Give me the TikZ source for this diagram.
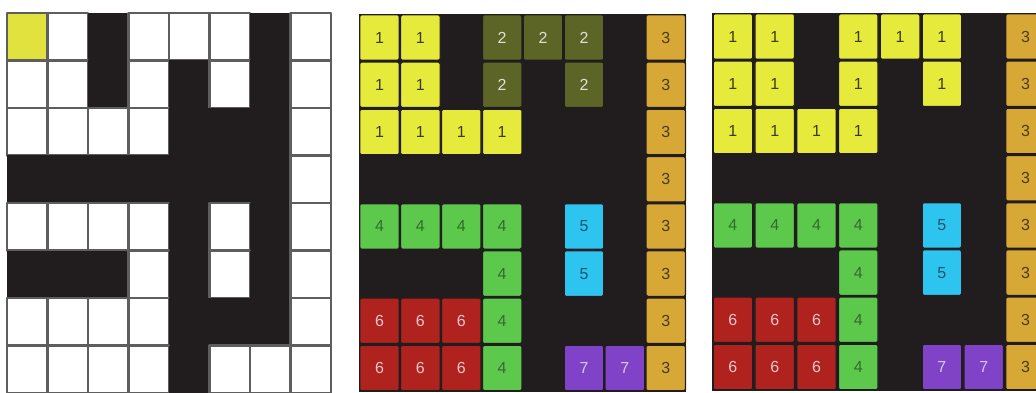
\documentclass[tikz,border=0pt]{standalone}
\usepackage{fontspec}
\setsansfont{Liberation Sans}
\usepackage{xcolor}
\usepackage{tikz}
\usetikzlibrary{positioning}
\definecolor{wallink}{HTML}{211D1F}
\definecolor{gridgray}{HTML}{5E5E5E}
\definecolor{startyellow}{HTML}{E2E23E}
\definecolor{lyellow}{HTML}{E6EA3A}
\definecolor{lolive}{HTML}{5C6426}
\definecolor{lorange}{HTML}{D8A836}
\definecolor{lgreen}{HTML}{5CC84C}
\definecolor{lcyan}{HTML}{2EC4F0}
\definecolor{lred}{HTML}{B0221E}
\definecolor{lpurple}{HTML}{8042C6}
\tikzset{
    every picture/.style={line cap=round,line join=round},
    opencell/.style={draw=gridgray,fill=white,line width=2.6pt,
      minimum width=40.5pt,minimum height=47.5pt,inner sep=0pt,outer sep=0pt},
    m0/.style={fill=wallink,minimum width=40.5pt,minimum height=47.5pt,
      inner sep=0pt,outer sep=0pt},
    m1/.style={opencell},
    m9/.style={opencell,fill=startyellow},
    labcell/.style={draw=wallink,line width=1.2pt,rounded corners=1.5pt,
      minimum width=39.5pt,minimum height=45.5pt,inner sep=0pt,outer sep=0pt,
      font=\sffamily\fontsize{16}{16}\selectfont},
    lab1/.style={labcell,fill=lyellow,text=black!75!lyellow},
    lab2/.style={labcell,fill=lolive,text=white!80!lolive},
    lab3/.style={labcell,fill=lorange,text=black!65!lorange},
    lab4/.style={labcell,fill=lgreen,text=black!45!lgreen},
    lab5/.style={labcell,fill=lcyan,text=black!55!lcyan},
    lab6/.style={labcell,fill=lred,text=white!75!lred},
    lab7/.style={labcell,fill=lpurple,text=white!70!lpurple},
    wallbg/.style={fill=wallink,inner sep=0pt,outer sep=0pt,anchor=north west}
}

\begin{document}
\begin{tikzpicture}[x=1pt,y=-1pt]
  \useasboundingbox (0,0) rectangle (1036,393);
  \clip (0,0) rectangle (1036,393);

  % maze
  \foreach \row [count=\r from 0] in {
      {9,1,0,1,1,1,0,1},{1,1,0,1,0,1,0,1},{1,1,1,1,0,0,0,1},{0,0,0,0,0,0,0,1},
      {1,1,1,1,0,1,0,1},{0,0,0,1,0,1,0,1},{1,1,1,1,0,0,0,1},{1,1,1,1,0,1,1,1}} {
    \foreach \v [count=\c from 0] in \row {
      \node[m\v] (g1-\r-\c) at ({7+(\c+0.5)*40.5},{13+(\r+0.5)*47.5}) {};
    }
  }

  % first labelling
  \node[wallbg,minimum width=327pt,minimum height=378pt] (g2) at (359,14) {};
  \foreach \row [count=\r from 0] in {
      {1,1,0,2,2,2,0,3},{1,1,0,2,0,2,0,3},{1,1,1,1,0,0,0,3},{0,0,0,0,0,0,0,3},
      {4,4,4,4,0,5,0,3},{0,0,0,4,0,5,0,3},{6,6,6,4,0,0,0,3},{6,6,6,4,0,7,7,3}} {
    \foreach \v [count=\c from 0] in \row {
      \ifnum\v>0
        \node[lab\v] (g2-\r-\c) at ({359+(\c+0.5)*40.9},{14+(\r+0.5)*47.2}) {\v};
      \fi
    }
  }

  % merged labelling
  \node[wallbg,minimum width=334pt,minimum height=378pt] (g3) at (712,13) {};
  \foreach \row [count=\r from 0] in {
      {1,1,0,1,1,1,0,3},{1,1,0,1,0,1,0,3},{1,1,1,1,0,0,0,3},{0,0,0,0,0,0,0,3},
      {4,4,4,4,0,5,0,3},{0,0,0,4,0,5,0,3},{6,6,6,4,0,0,0,3},{6,6,6,4,0,7,7,3}} {
    \foreach \v [count=\c from 0] in \row {
      \ifnum\v>0
        \node[lab\v] (g3-\r-\c) at ({712+(\c+0.5)*41.8},{13+(\r+0.5)*47.2}) {\v};
      \fi
    }
  }
\end{tikzpicture}
\end{document}
